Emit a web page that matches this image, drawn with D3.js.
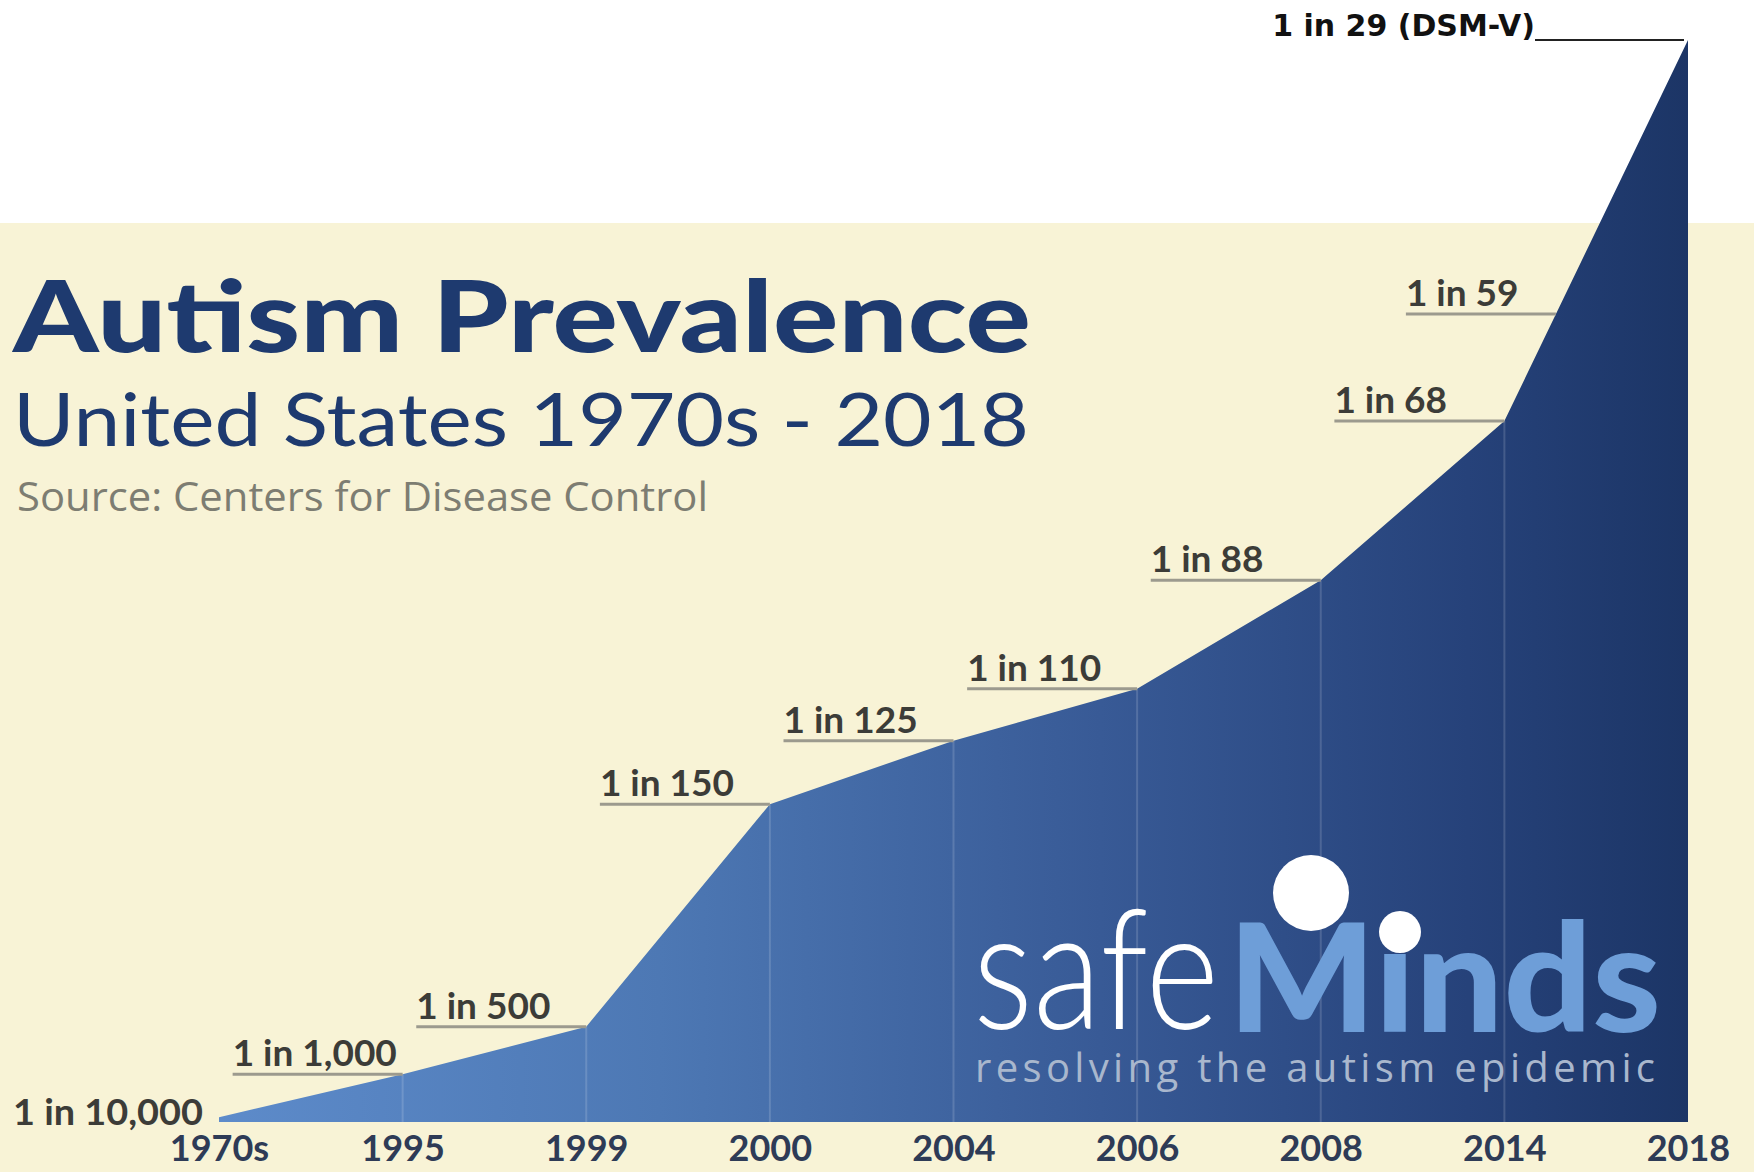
<!DOCTYPE html>
<html lang="en">
<head>
<meta charset="UTF-8">
<title>Autism Prevalence</title>
<script src="https://d3js.org/d3.v7.min.js"></script>
<style>
  html, body { margin: 0; padding: 0; background: #ffffff; }
  svg { display: block; }
</style>
</head>
<body>
<script>
// categories and values
var years = ["1970s", "1995", "1999", "2000", "2004", "2006", "2008", "2014", "2018"];
var oneIn = [10000, 1000, 500, 150, 125, 110, 88, 68, 29];
var labels = ["1 in 10,000", "1 in 1,000", "1 in 500", "1 in 150", "1 in 125", "1 in 110", "1 in 88", "1 in 68", "1 in 29 (DSM-V)"];
// extra note drawn on the 2014 -> 2018 segment
var midNote = { text: "1 in 59", oneIn: 59, from: "2014", to: "2018" };

var width = 1754, height = 1172;
var baseY = 1122;

var data = years.map(function(y, i) {
    return { year: y, per10k: 10000 / oneIn[i], label: labels[i] };
});

var svg = d3.select("body").append("svg")
    .attr("width", width)
    .attr("height", height);

var x = d3.scalePoint().domain(years).range([219, 1688]);
// the last value runs off the top, so the scale is clamped
var y = d3.scaleLinear().domain([0, 227]).range([baseY, 40]).clamp(true);

// backgrounds
svg.append("rect").attr("width", width).attr("height", height).attr("fill", "#ffffff");
svg.append("rect").attr("y", 223).attr("width", width).attr("height", height - 223).attr("fill", "#f8f3d6");

var defs = svg.append("defs");
var grad = defs.append("linearGradient")
    .attr("id", "areaGrad")
    .attr("gradientUnits", "userSpaceOnUse")
    .attr("x1", x("1970s")).attr("x2", x("2018"))
    .attr("y1", 0).attr("y2", 0);
grad.append("stop").attr("offset", "0").attr("stop-color", "#5d8bca");
grad.append("stop").attr("offset", "0.3").attr("stop-color", "#4d78b4");
grad.append("stop").attr("offset", "0.6").attr("stop-color", "#385a96");
grad.append("stop").attr("offset", "0.85").attr("stop-color", "#26427a");
grad.append("stop").attr("offset", "1").attr("stop-color", "#1c3566");

// area
var area = d3.area()
    .x(function(d) { return x(d.year); })
    .y0(baseY)
    .y1(function(d) { return y(d.per10k); });

svg.append("path")
    .datum(data)
    .attr("d", area)
    .attr("fill", "url(#areaGrad)");

// thin vertical lines inside the area
svg.selectAll(".vline")
    .data(data.slice(1, -1))
    .enter().append("line")
    .attr("x1", function(d) { return x(d.year); })
    .attr("x2", function(d) { return x(d.year); })
    .attr("y1", function(d) { return y(d.per10k); })
    .attr("y2", baseY)
    .attr("stroke", "rgba(255,255,255,0.15)")
    .attr("stroke-width", 2);

// title block
svg.append("text")
    .attr("x", 13).attr("y", 352)
    .attr("font-family", "Lato, 'Open Sans', sans-serif")
    .attr("font-weight", 900)
    .attr("font-size", 100)
    .attr("fill", "#1e3a6f")
    .attr("textLength", 1018).attr("lengthAdjust", "spacingAndGlyphs")
    .text("Autism Prevalence");

svg.append("text")
    .attr("x", 13).attr("y", 446)
    .attr("font-family", "Lato, 'Open Sans', sans-serif")
    .attr("font-weight", 400)
    .attr("font-size", 74)
    .attr("fill", "#1e3a6f")
    .attr("textLength", 1016).attr("lengthAdjust", "spacingAndGlyphs")
    .text("United States 1970s - 2018");

svg.append("text")
    .attr("x", 17).attr("y", 511)
    .attr("font-family", "'Open Sans', Lato, sans-serif")
    .attr("font-size", 40)
    .attr("fill", "#7d7d72")
    .attr("textLength", 691).attr("lengthAdjust", "spacingAndGlyphs")
    .text("Source: Centers for Disease Control");

// logo
var logo = svg.append("g");
logo.append("text")
    .attr("x", 973).attr("y", 1029)
    .attr("font-family", "Lato, sans-serif")
    .attr("font-weight", 300)
    .attr("font-size", 168)
    .attr("fill", "#ffffff")
    .attr("textLength", 246).attr("lengthAdjust", "spacingAndGlyphs")
    .text("safe");
logo.append("text")
    .attr("x", 1228).attr("y", 1032)
    .attr("font-family", "Lato, sans-serif")
    .attr("font-weight", 900)
    .attr("font-size", 150)
    .attr("fill", "#6e9ed8")
    .attr("textLength", 433).attr("lengthAdjust", "spacingAndGlyphs")
    .text("Minds");
logo.append("circle").attr("cx", 1311).attr("cy", 893).attr("r", 38).attr("fill", "#ffffff");
logo.append("circle").attr("cx", 1400).attr("cy", 932).attr("r", 21).attr("fill", "#ffffff");
logo.append("text")
    .attr("x", 975).attr("y", 1082)
    .attr("font-family", "'Open Sans', sans-serif")
    .attr("font-size", 40)
    .attr("fill", "#a9b7cd")
    .attr("textLength", 680).attr("lengthAdjust", "spacing")
    .text("resolving the autism epidemic");

// value labels with underline
var labelFont = "Lato, 'Open Sans', sans-serif";
var labelColor = "#3c3c38";
data.forEach(function(d, i) {
    var px = x(d.year), py = y(d.per10k);
    if (i === 0) {
        svg.append("text")
            .attr("x", 13).attr("y", 1125)
            .attr("font-family", labelFont).attr("font-weight", "bold")
            .attr("font-size", 36).attr("fill", labelColor)
            .attr("textLength", 190).attr("lengthAdjust", "spacingAndGlyphs")
            .text(d.label);
        return;
    }
    if (i === data.length - 1) {
        svg.append("line")
            .attr("x1", px - 153).attr("x2", px - 4)
            .attr("y1", py).attr("y2", py)
            .attr("stroke", "#222").attr("stroke-width", 2);
        svg.append("text")
            .attr("x", px - 153).attr("y", py - 4)
            .attr("text-anchor", "end")
            .attr("font-family", "'DejaVu Sans', sans-serif").attr("font-weight", "bold")
            .attr("font-size", 30).attr("fill", "#111")
            .text(d.label);
        return;
    }
    svg.append("line")
        .attr("x1", px - 170).attr("x2", px)
        .attr("y1", py).attr("y2", py)
        .attr("stroke", "#9c9a8e").attr("stroke-width", 3);
    svg.append("text")
        .attr("x", px - 170).attr("y", py - 8)
        .attr("font-family", labelFont).attr("font-weight", "bold")
        .attr("font-size", 37).attr("fill", labelColor)
        .text(d.label);
});

// 1 in 59 sits on the 2014 -> 2018 segment
(function() {
    var a = data[years.indexOf(midNote.from)], b = data[years.indexOf(midNote.to)];
    var ny = y(10000 / midNote.oneIn);
    var ay = y(a.per10k), by = y(b.per10k);
    var t = (ay - ny) / (ay - by);
    var nx = x(a.year) + t * (x(b.year) - x(a.year));
    svg.append("line")
        .attr("x1", nx - 150).attr("x2", nx)
        .attr("y1", ny).attr("y2", ny)
        .attr("stroke", "#9c9a8e").attr("stroke-width", 3);
    svg.append("text")
        .attr("x", nx - 150).attr("y", ny - 8)
        .attr("font-family", labelFont).attr("font-weight", "bold")
        .attr("font-size", 37).attr("fill", labelColor)
        .text(midNote.text);
})();

// x axis labels
var xAxis = d3.axisBottom(x).tickSize(0).tickPadding(0);
var gx = svg.append("g")
    .attr("transform", "translate(0," + baseY + ")")
    .call(xAxis);
gx.select(".domain").remove();
gx.selectAll("text")
    .attr("y", 39)
    .attr("dy", 0)
    .attr("font-family", labelFont)
    .attr("font-weight", "bold")
    .attr("font-size", 36)
    .attr("fill", "#2e3b56");
</script>
</body>
</html>
